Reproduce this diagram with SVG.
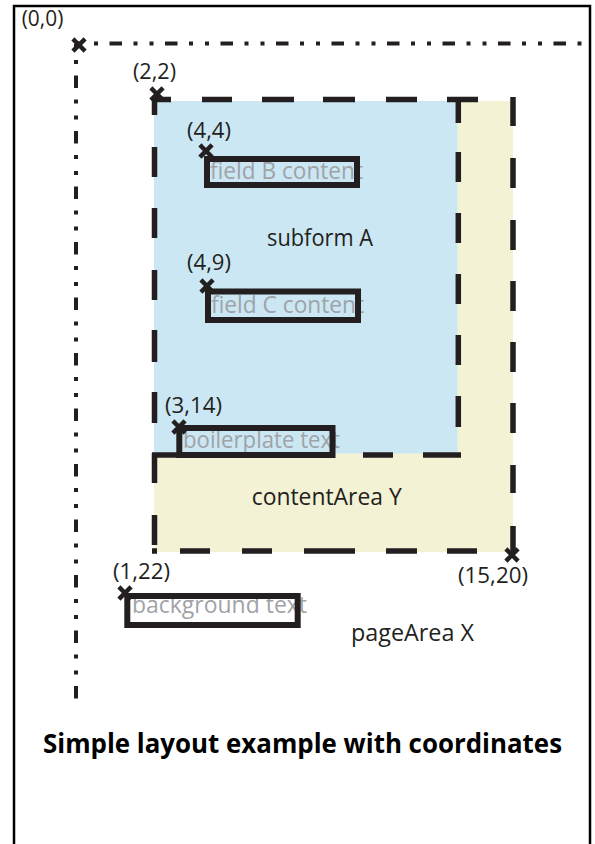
<svg xmlns="http://www.w3.org/2000/svg" width="595" height="844" viewBox="0 0 595 844">
<style>
text{font-family:"Open Sans","Noto Sans","Liberation Sans",sans-serif}
.lbl{font-size:22px;fill:#231f20}
.big{font-size:23px;fill:#231f20}
.gry{font-size:23px;fill:#9fa3a8}
.ttl{font-size:26px;font-weight:bold;fill:#000}
.box{fill:none;stroke:#231f20;stroke-width:6}
.dash{fill:none;stroke:#231f20;stroke-width:5.5}
.axis{fill:none;stroke:#231f20;stroke-width:4;stroke-dasharray:4 12 4 11.5 12.5 11.5}
</style>
<defs>
<path id="xmark" d="M-4.5,-4.5L4.5,4.5M4.5,-4.5L-4.5,4.5" stroke="#231f20" stroke-width="4.5" stroke-linecap="square" fill="none"/>
</defs>
<rect width="595" height="844" fill="#fff"/>
<g id="frame"><path d="M14,846V6H590V846" fill="none" stroke="#000" stroke-width="2.5"/></g>
<g id="origin-axes">
<path class="axis" d="M78,43.5H584"/>
<path class="axis" d="M76,44V709"/>
<use href="#xmark" x="79" y="45"/>
<text class="lbl" x="21.7" y="26" textLength="41.6" lengthAdjust="spacingAndGlyphs">(0,0)</text>
</g>
<g id="contentArea-Y">
<rect x="154" y="101" width="359" height="451" fill="#f3f2d4"/>
<text class="big" x="251.7" y="505" textLength="150" lengthAdjust="spacingAndGlyphs">contentArea Y</text>
</g>
<g id="subform-A">
<rect x="154" y="101" width="303.5" height="352.5" fill="#cbe7f3"/>
<text class="big" x="267" y="246" textLength="106" lengthAdjust="spacingAndGlyphs">subform A</text>
</g>
<g id="field-B">
<text class="gry" x="210" y="179" textLength="153" lengthAdjust="spacingAndGlyphs">field B content</text>
<rect class="box" x="207" y="159" width="150" height="26"/>
<use href="#xmark" x="206" y="151"/>
<text class="lbl" x="187" y="138" textLength="44" lengthAdjust="spacingAndGlyphs">(4,4)</text>
</g>
<g id="field-C">
<text class="gry" x="211" y="312.7" textLength="153" lengthAdjust="spacingAndGlyphs">field C content</text>
<rect class="box" x="208" y="291.5" width="150" height="28.5"/>
<use href="#xmark" x="207" y="286"/>
<text class="lbl" x="187" y="270" textLength="44" lengthAdjust="spacingAndGlyphs">(4,9)</text>
</g>
<g id="boilerplate">
<text class="gry" x="183" y="448" textLength="157" lengthAdjust="spacingAndGlyphs">boilerplate text</text>
<rect class="box" x="179.3" y="428" width="153.2" height="27"/>
<use href="#xmark" x="179" y="427"/>
<text class="lbl" x="165" y="413" textLength="57" lengthAdjust="spacingAndGlyphs">(3,14)</text>
</g>
<g id="dashed-borders">
<path class="dash" d="M152,99.5H171M202,99.5H232M262,99.5H294M323,99.5H355M386,99.5H417M447,99.5H478"/>
<path class="dash" d="M154.5,97V115M154.5,147V177M154.5,208V238M154.5,270V300M154.5,330V362M154.5,392V423M154.5,453V483M154.5,515V545"/>
<path class="dash" d="M513,97V126M513,158V188M513,220V250M513,281V311M513,342V372M513,403V433M513,465V493M513,526V552"/>
<path class="dash" d="M152,551H157M180,551H210M242,551H272M304,551H355M386,551H417M447,551H477"/>
<path class="dash" d="M458.3,100V123M458.3,152V182M458.3,213V243M458.3,274V304M458.3,335V365M458.3,396V427"/>
<path class="dash" d="M152,455H180M363,455H393M423,455H461"/>
<use href="#xmark" x="157" y="94"/>
<text class="lbl" x="133" y="79" textLength="43" lengthAdjust="spacingAndGlyphs">(2,2)</text>
<use href="#xmark" x="512" y="555"/>
<text class="lbl" x="458" y="583" textLength="70" lengthAdjust="spacingAndGlyphs">(15,20)</text>
</g>
<g id="background">
<text class="gry" x="132" y="613" textLength="175" lengthAdjust="spacingAndGlyphs">background text</text>
<rect class="box" x="127.3" y="596" width="170.4" height="29"/>
<use href="#xmark" x="125" y="593"/>
<text class="lbl" x="113" y="579" textLength="57" lengthAdjust="spacingAndGlyphs">(1,22)</text>
</g>
<g id="pageArea-X">
<text class="big" x="351" y="641" textLength="123" lengthAdjust="spacingAndGlyphs">pageArea X</text>
</g>
<g id="title">
<text class="ttl" x="43" y="753" textLength="519" lengthAdjust="spacingAndGlyphs">Simple layout example with coordinates</text>
</g>
</svg>
